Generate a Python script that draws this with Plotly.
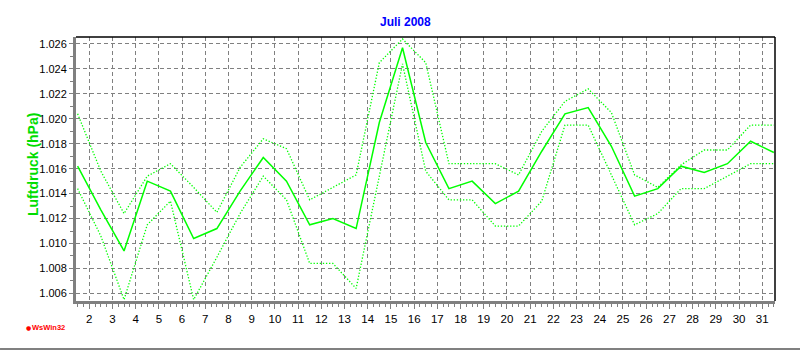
import plotly.graph_objects as go

# Daily air pressure, July 2008 (values in the chart's units)
days = list(range(1, 32))
mean_p = [1.0162, 1.0127, 1.0094, 1.0150, 1.0142, 1.0104, 1.0112, 1.0142, 1.0169, 1.0150,
          1.0115, 1.0120, 1.0112, 1.0197, 1.0257, 1.0181, 1.0144, 1.0150, 1.0132, 1.0142,
          1.0174, 1.0204, 1.0209, 1.0178, 1.0138, 1.0144, 1.0162, 1.0157, 1.0164, 1.0182,
          1.0173]
max_p = [1.0204, 1.0158, 1.0124, 1.0154, 1.0164, 1.0145, 1.0125, 1.0161, 1.0184, 1.0176,
         1.0135, 1.0145, 1.0155, 1.0245, 1.0264, 1.0245, 1.0164, 1.0164, 1.0164, 1.0155,
         1.0190, 1.0214, 1.0224, 1.0205, 1.0155, 1.0145, 1.0163, 1.0175, 1.0175, 1.0195,
         1.0195]
min_p = [1.0144, 1.0106, 1.0055, 1.0115, 1.0134, 1.0055, 1.0089, 1.0124, 1.0154, 1.0135,
         1.0084, 1.0084, 1.0064, 1.0154, 1.0244, 1.0158, 1.0135, 1.0135, 1.0114, 1.0114,
         1.0134, 1.0195, 1.0195, 1.0155, 1.0115, 1.0124, 1.0144, 1.0144, 1.0154, 1.0164,
         1.0164]
x_ticks = list(range(2, 32))
y_ticks = [1.006, 1.008, 1.010, 1.012, 1.014, 1.016, 1.018, 1.020, 1.022, 1.024, 1.026]

title_text = "Juli 2008"
y_title = "Luftdruck (hPa)"
logo_text = "WsWin32"

# daily values are drawn at midday
x_pos = [d + 0.5 for d in days]

GREEN = "#00FF00"
FONT = "Liberation Sans, Arial, sans-serif"

fig = go.Figure()
fig.add_trace(go.Scatter(x=x_pos, y=max_p, mode="lines",
                         line=dict(color=GREEN, width=1.3, dash="1.3px,1.8px"),
                         showlegend=False, hoverinfo="skip"))
fig.add_trace(go.Scatter(x=x_pos, y=min_p, mode="lines",
                         line=dict(color=GREEN, width=1.3, dash="1.3px,1.8px"),
                         showlegend=False, hoverinfo="skip"))
fig.add_trace(go.Scatter(x=x_pos, y=mean_p, mode="lines",
                         line=dict(color=GREEN, width=1.5),
                         showlegend=False))

fig.update_layout(
    width=800, height=350,
    margin=dict(l=76, r=25, t=37, b=49),
    paper_bgcolor="white", plot_bgcolor="white",
    font=dict(family=FONT, size=11, color="black"),
    xaxis=dict(
        range=[1.43, 31.55], tickmode="array", tickvals=x_ticks,
        ticktext=[str(t) for t in x_ticks],
        showgrid=True, gridcolor="#808080", gridwidth=1, griddash="4px,3px",
        showline=True, linecolor="#808080", linewidth=3,
        ticks="outside", ticklen=5, tickcolor="#808080", tickwidth=1,
        minor=dict(dtick=0.25, tick0=0, ticks="outside", ticklen=3,
                   tickcolor="#808080", showgrid=False),
        zeroline=False, tickfont=dict(size=11.5, color="black", family=FONT),
        automargin=False,
    ),
    yaxis=dict(
        range=[1.00539, 1.02656], tickmode="array", tickvals=y_ticks,
        tickformat=".3f",
        showgrid=True, gridcolor="#808080", gridwidth=1, griddash="4px,3px",
        showline=True, linecolor="#808080", linewidth=3,
        ticks="outside", ticklen=4, tickcolor="#808080", tickwidth=1,
        minor=dict(dtick=0.001, tick0=1.0, ticks="outside", ticklen=3,
                   tickcolor="#808080", showgrid=False),
        zeroline=False, tickfont=dict(size=11, color="black", family=FONT),
        automargin=False,
    ),
    shapes=[
        dict(type="line", xref="paper", yref="paper", x0=0, x1=1, y0=1, y1=1,
             line=dict(color="black", width=1.5)),
        dict(type="line", xref="paper", yref="paper", x0=1, x1=1, y0=0, y1=1,
             line=dict(color="black", width=1.5)),
        dict(type="line", xref="paper", yref="paper", x0=-0.1087, x1=1.0358,
             y0=-0.1818, y1=-0.1818, line=dict(color="#808080", width=2)),
    ],
    annotations=[
        dict(text="<b>" + title_text + "</b>", xref="paper", yref="paper",
             x=0.4707, y=1.0568, xanchor="center", yanchor="middle",
             showarrow=False, font=dict(family=FONT, size=12, color="#0000FF")),
        dict(text="<b>" + y_title + "</b>", xref="paper", yref="paper",
             x=-0.0615, y=0.515, xanchor="center", yanchor="middle", textangle=-90,
             showarrow=False, font=dict(family=FONT, size=14, color="#00DD00")),
        dict(text="●", xref="paper", yref="paper",
             x=-0.0745, y=-0.0985, xanchor="left", yanchor="middle",
             showarrow=False, font=dict(family="DejaVu Sans", size=6, color="#FF0000")),
        dict(text="<b>" + logo_text + "</b>", xref="paper", yref="paper",
             x=-0.0665, y=-0.0985, xanchor="left", yanchor="middle",
             showarrow=False, font=dict(family=FONT, size=7.5, color="#FF0000")),
    ],
)

fig.write_html("out.html", config={"displayModeBar": False},
               post_script="document.body.style.margin='0';")
